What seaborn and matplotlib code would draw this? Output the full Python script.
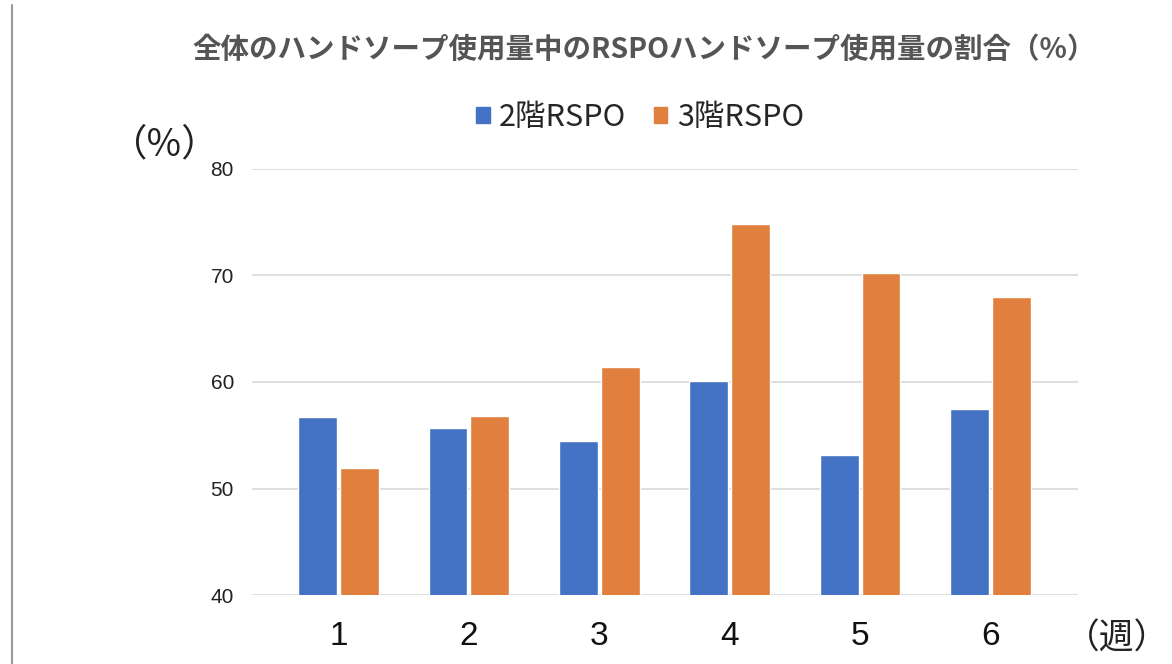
import numpy as np
import pandas as pd
import matplotlib
matplotlib.use("Agg")
import matplotlib.pyplot as plt
from matplotlib.lines import Line2D
import seaborn as sns

# データ
weeks = ["1", "2", "3", "4", "5", "6"]
floor2 = [56.7, 55.7, 54.5, 60.1, 53.1, 57.5]
floor3 = [51.9, 56.8, 61.4, 74.8, 70.2, 68.0]
series = ["2階RSPO", "3階RSPO"]
colors = ["#4472C4", "#E07F3E"]

df = pd.DataFrame({
    "week": weeks * 2,
    "value": floor2 + floor3,
    "floor": [series[0]] * len(weeks) + [series[1]] * len(weeks),
})

sns.set_theme(style="white")
plt.rcParams["font.family"] = ["Liberation Sans", "Noto Sans CJK JP", "DejaVu Sans"]

fig = plt.figure(figsize=(11.72, 6.64), dpi=100)
ax = fig.add_axes([0.2150, 0.1039, 0.7048, 0.6416])

sns.barplot(data=df, x="week", y="value", hue="floor", order=weeks,
            hue_order=series, palette=colors, width=0.64, gap=0.07,
            saturation=1, ax=ax, legend=False)

ax.set_ylim(40, 80)
ax.set_yticks([40, 50, 60, 70, 80])
ax.set_xlim(-0.663, 5.67)
ax.yaxis.grid(True, color="#d9d9d9", linewidth=1.2)
ax.set_axisbelow(True)
for s in ax.spines.values():
    s.set_visible(False)
ax.tick_params(axis="y", length=0, pad=13, labelsize=15, labelcolor="#222222")
ax.tick_params(axis="x", length=0, pad=19, labelsize=24, labelcolor="#111111")
ax.set_xlabel("")
ax.set_ylabel("")

# タイトル
fig.text(0.550, 0.925, "全体のハンドソープ使用量中のRSPOハンドソープ使用量の割合（%）",
         ha="center", va="center", fontsize=20.5, fontweight="bold", color="#555555",
         family=["Noto Sans CJK JP", "DejaVu Sans"])

# 凡例
handles = [plt.Rectangle((0, 0), 1, 1, color=c) for c in colors]
fig.legend(handles, series, loc="center", bbox_to_anchor=(0.546, 0.823), ncol=2,
           frameon=False, handlelength=0.45, handleheight=0.45,
           handletextpad=0.3, columnspacing=0.9,
           prop={"family": ["Noto Sans CJK JP"], "size": 22})

# 軸の単位
fig.text(0.141, 0.782, "（%）", ha="center", va="center", fontsize=27, color="#222222",
         family=["Noto Sans CJK JP", "DejaVu Sans"])
fig.text(0.953, 0.038, "（週）", ha="center", va="center", fontsize=25, color="#222222",
         family=["Noto Sans CJK JP", "DejaVu Sans"])

# 左端の線
fig.add_artist(Line2D([0.0105, 0.0105], [0.0, 0.992], color="#9a9a9a", linewidth=1.5))

fig.savefig("out.png", dpi=100, facecolor="white")
